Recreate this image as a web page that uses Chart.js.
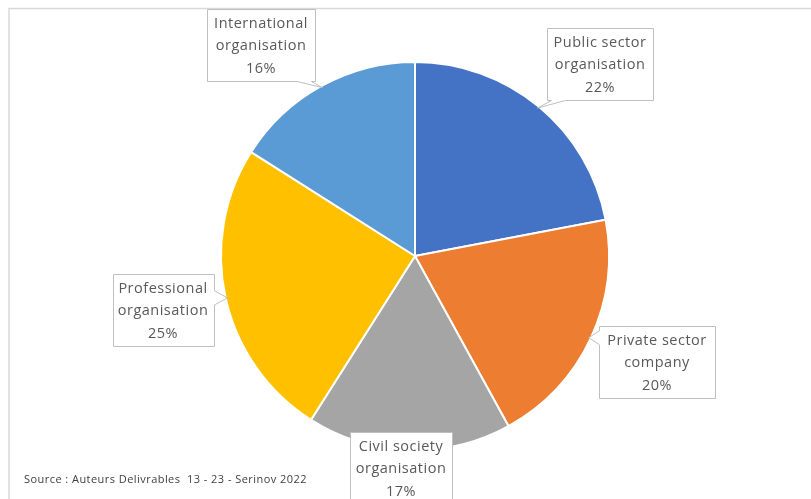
<!DOCTYPE html>
<html>
<head>
<meta charset="utf-8">
<script src="https://cdn.jsdelivr.net/npm/chart.js@4.4.1/dist/chart.umd.min.js"></script>
<style>
  html, body { margin: 0; padding: 0; background: #ffffff; }
  #wrap { position: relative; width: 811px; height: 499px; }
</style>
</head>
<body>
<div id="wrap"><canvas id="c" width="811" height="499"></canvas></div>
<script>
// ---- data ----
const categories = [
  "Public sector organisation",
  "Private sector company",
  "Civil society organisation",
  "Professional organisation",
  "International organisation"
];
const labelLines = [
  ["Public sector", "organisation"],
  ["Private sector", "company"],
  ["Civil society", "organisation"],
  ["Professional", "organisation"],
  ["International", "organisation"]
];
const shares = [22, 20, 17, 25, 16];
const sourceNote = "Source : Auteurs Delivrables  13 - 23 - Serinov 2022";

// ---- styling / layout ----
const sliceColors = ["#4472C4", "#ED7D31", "#A5A5A5", "#FFC000", "#5B9BD5"];
// label box centre offsets from the pie centre (layout only)
const boxOffsets = [[185, -192], [242, 106], [-14, 212], [-252, 54], [-154, -211]];
const boxWidths = [106, 116, 102, 101, 108];
const boxHeight = 72;
const lineGap = 22.5;

function boxPathWithTip(ctx, x, y, w, h, tip) {
  const [tx, ty] = tip;
  const inside = tx > x && tx < x + w && ty > y && ty < y + h;
  ctx.beginPath();
  if (inside) { ctx.rect(x, y, w, h); return; }
  let side;
  const cx = x + w / 2, cy = y + h / 2;
  const dx = (tx - cx) / (w / 2), dy = (ty - cy) / (h / 2);
  if (Math.abs(dx) > Math.abs(dy)) side = dx > 0 ? 'right' : 'left';
  else side = dy > 0 ? 'bottom' : 'top';
  const half = 7;
  const clamp = (v, a, b) => Math.max(a, Math.min(b, v));
  ctx.moveTo(x, y);
  if (side === 'top') {
    const m = clamp(tx, x + half + 4, x + w - half - 4);
    ctx.lineTo(m - half, y); ctx.lineTo(tx, ty); ctx.lineTo(m + half, y);
  }
  ctx.lineTo(x + w, y);
  if (side === 'right') {
    const m = clamp(ty, y + half + 4, y + h - half - 4);
    ctx.lineTo(x + w, m - half); ctx.lineTo(tx, ty); ctx.lineTo(x + w, m + half);
  }
  ctx.lineTo(x + w, y + h);
  if (side === 'bottom') {
    const m = clamp(tx, x + half + 4, x + w - half - 4);
    ctx.lineTo(m + half, y + h); ctx.lineTo(tx, ty); ctx.lineTo(m - half, y + h);
  }
  ctx.lineTo(x, y + h);
  if (side === 'left') {
    const m = clamp(ty, y + half + 4, y + h - half - 4);
    ctx.lineTo(x, m + half); ctx.lineTo(tx, ty); ctx.lineTo(x, m - half);
  }
  ctx.closePath();
}

const framePlugin = {
  id: 'frame',
  beforeDraw(chart) {
    const ctx = chart.ctx;
    ctx.save();
    ctx.fillStyle = '#ffffff';
    ctx.fillRect(0, 0, chart.width, chart.height);
    ctx.strokeStyle = '#d9d9d9';
    ctx.lineWidth = 1.5;
    ctx.strokeRect(9, 8.5, chart.width + 20, chart.height + 20);
    ctx.restore();
  },
  afterDraw(chart) {
    const ctx = chart.ctx;
    const meta = chart.getDatasetMeta(0);
    const total = shares.reduce((a, b) => a + b, 0);
    ctx.save();
    meta.data.forEach((arc, i) => {
      const p = arc.getProps(['x', 'y', 'startAngle', 'endAngle', 'outerRadius'], true);
      const mid = (p.startAngle + p.endAngle) / 2;
      const tip = [p.x + Math.cos(mid) * (p.outerRadius - 2), p.y + Math.sin(mid) * (p.outerRadius - 2)];
      const bw = boxWidths[i], bh = boxHeight;
      const bcx = p.x + boxOffsets[i][0], bcy = p.y + boxOffsets[i][1];
      const bx = Math.round(bcx - bw / 2) + 0.5, by = Math.round(bcy - bh / 2) + 0.5;
      boxPathWithTip(ctx, bx, by, bw, bh, tip);
      ctx.fillStyle = '#ffffff';
      ctx.fill();
      ctx.strokeStyle = '#bfbfbf';
      ctx.lineWidth = 1;
      ctx.stroke();
      const lines = labelLines[i].concat([Math.round(shares[i] / total * 100) + '%']);
      ctx.fillStyle = '#595959';
      ctx.font = '14.5px "Open Sans"';
      ctx.letterSpacing = '0.5px';
      ctx.textAlign = 'center';
      ctx.textBaseline = 'middle';
      lines.forEach((t, k) => {
        ctx.fillText(t, bcx, bcy + 1 + (k - 1) * lineGap);
      });
    });
    // source note
    ctx.font = '11px "Open Sans"';
    ctx.letterSpacing = '0px';
    const w = ctx.measureText(sourceNote).width;
    ctx.letterSpacing = ((283 - w) / sourceNote.length).toFixed(2) + 'px';
    ctx.fillStyle = '#404040';
    ctx.textAlign = 'left';
    ctx.textBaseline = 'middle';
    ctx.fillText(sourceNote, 24, 480);
    ctx.restore();
  }
};

new Chart(document.getElementById('c'), {
  type: 'pie',
  data: {
    labels: categories,
    datasets: [{
      data: shares,
      backgroundColor: sliceColors,
      borderColor: '#ffffff',
      borderWidth: 2,
      hoverOffset: 0
    }]
  },
  options: {
    responsive: false,
    animation: false,
    events: [],
    radius: 194,
    layout: { padding: { left: 19, right: 0, top: 13, bottom: 0 } },
    plugins: { legend: { display: false }, tooltip: { enabled: false } }
  },
  plugins: [framePlugin]
});
</script>
</body>
</html>
